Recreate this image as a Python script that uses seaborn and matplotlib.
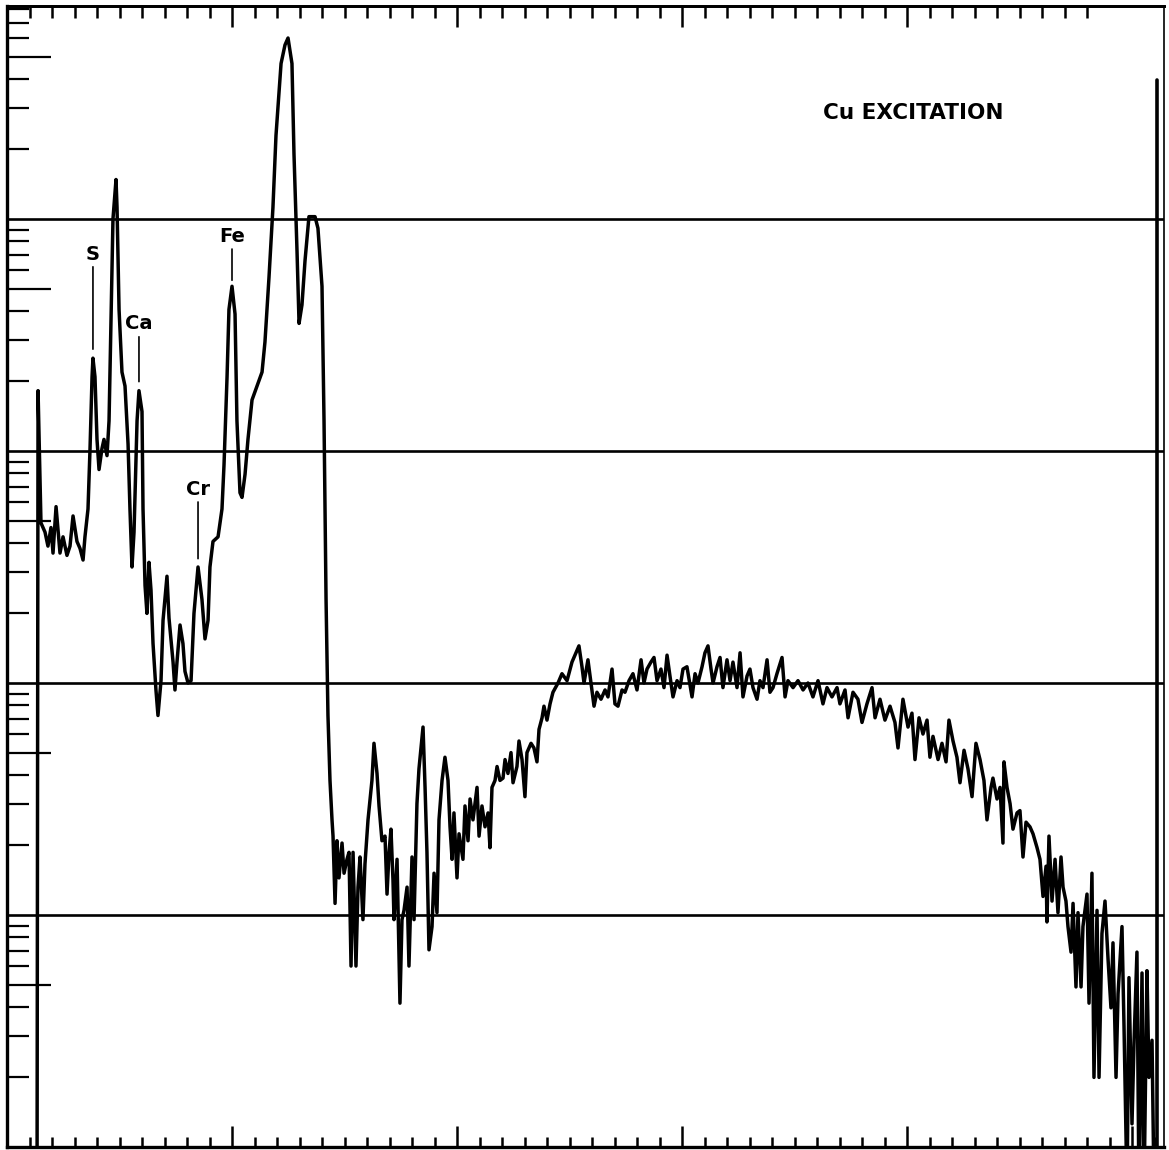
import numpy as np
import pandas as pd
import matplotlib
matplotlib.use("Agg")
import matplotlib.pyplot as plt
from matplotlib.ticker import LogLocator, FixedLocator, NullFormatter
import seaborn as sns

# ---------------- data (channel, log10 counts) ----------------
channels = [
    26.7, 27.6, 30.2, 33.8, 36.4, 39.1, 40.9, 43.6, 47.1, 49.8,
    53.3, 56.0, 58.7, 62.2, 64.9, 67.6, 69.3, 72.0, 73.8, 75.6,
    76.4, 78.2, 80.0, 81.8, 84.4, 86.2, 88.9, 90.7, 92.4, 94.2,
    96.9, 97.8, 99.6, 102.2, 104.9, 107.6, 109.3, 111.1, 112.9, 115.6,
    117.3, 120.0, 120.9, 122.7, 124.4, 126.2, 128.0, 129.8, 132.4, 134.2,
    136.9, 138.7, 142.2, 144.0, 147.6, 149.3, 151.1, 153.8, 156.4, 158.2,
    160.9, 163.6, 166.2, 169.8, 173.3, 176.0, 178.7, 180.4, 183.1, 187.6,
    191.1, 192.9, 195.6, 197.3, 200.0, 202.7, 204.4, 207.1, 208.9, 211.6,
    214.2, 217.8, 222.2, 226.7, 229.3, 232.9, 236.4, 239.1, 243.6, 247.1,
    249.8, 253.3, 255.1, 257.8, 259.6, 262.2, 264.9, 268.4, 273.8, 276.4,
    280.0, 281.8, 283.6, 285.3, 287.1, 288.9, 289.8, 291.6, 293.3, 295.1,
    297.8, 299.6, 302.2, 304.0, 305.8, 307.6, 310.2, 312.0, 313.8, 316.4,
    318.2, 320.9, 324.4, 326.2, 328.9, 330.7, 333.3, 336.0, 337.8, 339.6,
    341.3, 343.1, 344.0, 346.7, 347.6, 349.3, 351.1, 352.9, 355.6, 357.3,
    360.0, 361.8, 364.4, 366.2, 369.8, 371.6, 373.3, 375.1, 377.8, 379.6,
    382.2, 384.0, 386.7, 389.3, 392.0, 393.8, 395.6, 397.3, 400.0, 401.8,
    405.3, 407.1, 409.8, 411.6, 414.2, 417.8, 419.6, 422.2, 424.9, 427.6,
    429.3, 431.1, 433.8, 435.6, 438.2, 440.9, 442.7, 445.3, 448.0, 449.8,
    453.3, 455.1, 457.8, 460.4, 462.2, 465.8, 468.4, 471.1, 472.9, 475.6,
    477.3, 480.0, 482.7, 485.3, 489.8, 493.3, 497.8, 502.2, 506.7, 508.4,
    511.1, 512.9, 516.4, 519.1, 521.8, 524.4, 528.0, 531.6, 534.2, 537.8,
    540.4, 543.1, 546.7, 549.3, 552.9, 556.4, 560.0, 563.6, 566.2, 568.9,
    572.4, 575.1, 577.8, 581.3, 584.0, 586.7, 589.3, 592.0, 595.6, 598.2,
    600.9, 604.4, 608.9, 611.6, 614.2, 617.8, 620.4, 623.1, 625.8, 627.6,
    631.1, 633.8, 636.4, 640.0, 642.7, 645.3, 648.9, 651.6, 654.2, 657.8,
    660.4, 663.1, 666.7, 669.3, 672.0, 675.6, 678.2, 680.9, 684.4, 688.9,
    691.6, 694.2, 698.7, 703.1, 707.6, 712.0, 716.4, 720.9, 725.3, 728.9,
    733.3, 737.8, 740.4, 744.9, 747.6, 752.0, 756.4, 760.0, 764.4, 768.9,
    771.6, 776.0, 780.4, 784.9, 789.3, 792.0, 796.4, 800.9, 804.4, 807.1,
    810.7, 814.2, 817.8, 820.4, 823.1, 827.6, 831.1, 834.7, 837.3, 840.9,
    844.4, 847.1, 850.7, 854.2, 857.8, 861.3, 864.9, 868.4, 871.1, 874.7,
    876.4, 880.0, 882.7, 885.3, 886.2, 888.9, 891.6, 894.2, 897.8, 900.4,
    903.1, 905.8, 909.3, 912.0, 915.6, 918.2, 920.9, 923.6, 924.4, 926.2,
    928.9, 931.6, 934.2, 936.9, 938.7, 941.3, 943.1, 945.8, 947.6, 950.2,
    952.0, 954.7, 956.4, 960.0, 961.8, 964.4, 966.2, 968.9, 970.7, 973.3,
    976.0, 978.7, 981.3, 983.1, 985.8, 987.6, 991.1, 992.9, 995.6, 997.3,
    1000.0, 1001.8, 1004.4, 1006.2, 1008.9, 1010.7, 1013.3, 1015.1, 1017.8, 1019.6,
]

log10_counts = [
    -0.2, 3.26, 2.69, 2.65, 2.59, 2.67, 2.56, 2.76, 2.56, 2.63,
    2.55, 2.59, 2.72, 2.61, 2.58, 2.53, 2.63, 2.75, 3.01, 3.32,
    3.40, 3.32, 3.05, 2.92, 3.01, 3.05, 2.98, 3.13, 3.55, 4.00,
    4.17, 4.05, 3.61, 3.34, 3.28, 3.03, 2.75, 2.50, 2.65, 3.13,
    3.26, 3.17, 2.75, 2.42, 2.30, 2.52, 2.40, 2.17, 1.97, 1.86,
    2.01, 2.27, 2.46, 2.28, 2.09, 1.97, 2.09, 2.25, 2.17, 2.05,
    2.00, 2.01, 2.30, 2.50, 2.36, 2.19, 2.27, 2.50, 2.61, 2.63,
    2.75, 2.94, 3.32, 3.61, 3.71, 3.59, 3.13, 2.82, 2.80, 2.90,
    3.05, 3.22, 3.28, 3.34, 3.47, 3.75, 4.05, 4.36, 4.67, 4.75,
    4.78, 4.67, 4.28, 3.86, 3.55, 3.63, 3.82, 4.01, 4.01, 3.96,
    3.71, 3.13, 2.36, 1.86, 1.58, 1.41, 1.34, 1.05, 1.32, 1.16,
    1.31, 1.18, 1.24, 1.27, 0.78, 1.27, 0.78, 1.12, 1.25, 0.98,
    1.22, 1.41, 1.58, 1.74, 1.61, 1.47, 1.32, 1.34, 1.09, 1.27,
    1.37, 1.15, 0.98, 1.24, 1.03, 0.62, 0.98, 1.02, 1.12, 0.78,
    1.25, 0.98, 1.48, 1.63, 1.81, 1.55, 1.27, 0.85, 0.95, 1.18,
    1.01, 1.41, 1.58, 1.68, 1.58, 1.38, 1.24, 1.44, 1.16, 1.35,
    1.24, 1.47, 1.32, 1.50, 1.41, 1.55, 1.34, 1.47, 1.38, 1.44,
    1.29, 1.55, 1.58, 1.64, 1.58, 1.59, 1.67, 1.61, 1.70, 1.57,
    1.64, 1.75, 1.67, 1.51, 1.70, 1.74, 1.72, 1.66, 1.80, 1.85,
    1.90, 1.84, 1.91, 1.96, 2.00, 2.04, 2.01, 2.09, 2.14, 2.16,
    2.07, 2.00, 2.10, 2.00, 1.90, 1.96, 1.93, 1.97, 1.94, 2.06,
    1.91, 1.90, 1.97, 1.96, 2.01, 2.04, 1.97, 2.10, 2.00, 2.06,
    2.09, 2.11, 2.01, 2.06, 1.98, 2.12, 2.03, 1.94, 2.01, 1.98,
    2.06, 2.07, 1.94, 2.04, 2.00, 2.07, 2.13, 2.16, 2.06, 2.00,
    2.07, 2.11, 1.98, 2.10, 2.01, 2.09, 1.98, 2.13, 1.94, 2.03,
    2.06, 1.98, 1.93, 2.01, 1.98, 2.10, 1.96, 1.98, 2.04, 2.11,
    1.94, 2.01, 1.98, 2.01, 1.97, 2.00, 1.94, 2.01, 1.91, 1.98,
    1.94, 1.98, 1.91, 1.97, 1.85, 1.96, 1.93, 1.83, 1.91, 1.98,
    1.85, 1.93, 1.84, 1.90, 1.83, 1.72, 1.93, 1.81, 1.87, 1.67,
    1.85, 1.78, 1.84, 1.68, 1.77, 1.67, 1.74, 1.66, 1.84, 1.75,
    1.68, 1.57, 1.71, 1.63, 1.51, 1.74, 1.67, 1.58, 1.41, 1.55,
    1.59, 1.50, 1.55, 1.31, 1.66, 1.55, 1.48, 1.37, 1.44, 1.45,
    1.25, 1.40, 1.38, 1.35, 1.29, 1.24, 1.08, 1.21, 0.97, 1.34,
    1.06, 1.24, 1.01, 1.25, 1.12, 1.06, 0.95, 0.84, 1.05, 0.69,
    1.01, 0.69, 0.95, 1.09, 0.62, 1.18, 0.30, 1.02, 0.30, 0.92,
    1.06, 0.81, 0.60, 0.88, 0.30, 0.66, 0.95, 0.52, -0.2, 0.73,
    0.10, 0.45, 0.84, -0.2, 0.75, -0.2, 0.76, 0.30, 0.46, -0.2,
]

peak_names = ["S", "Ca", "Cr", "Fe"]
peak_channels = [76.4, 117.3, 169.8, 200.0]
title_text = "Cu EXCITATION"

# ---------------- figure ----------------
sns.set_style("white")
plt.rcParams["font.family"] = ["DejaVu Sans"]
plt.rcParams["text.color"] = "black"

W, H = 1169, 1150
fig = plt.figure(figsize=(W / 100, H / 100), dpi=100)
ax = fig.add_axes([7 / W, 3 / H, 1156.5 / W, 1141 / H])

df = pd.DataFrame({"channel": channels, "counts": 10 ** np.array(log10_counts)})
sns.lineplot(data=df, x="channel", y="counts", sort=False, estimator=None,
             color="black", linewidth=2.5, ax=ax, legend=False)

ax.set_yscale("log")
ax.set_xlim(0, 1028)
ax.set_ylim(1, 10 ** 4.918)
ax.set_xlabel("")
ax.set_ylabel("")

# decade reference lines
for k in range(1, 5):
    ax.axhline(10 ** k, color="black", lw=1.9, zorder=1)

# right hand pen line
ax.axvline(1022, ymin=0, ymax=0.935, color="black", lw=2.6)

# y ticks: long at 5x, short at the other sub-decades
ax.yaxis.set_major_locator(LogLocator(base=10, subs=[5.0]))
ax.yaxis.set_minor_locator(LogLocator(base=10, subs=[2, 3, 4, 6, 7, 8, 9]))
ax.yaxis.set_major_formatter(NullFormatter())
ax.yaxis.set_minor_formatter(NullFormatter())
ax.tick_params(axis="y", which="major", direction="in", length=32, width=1.6,
               left=True, right=False, labelleft=False, color="black")
ax.tick_params(axis="y", which="minor", direction="in", length=16, width=1.6,
               left=True, right=False, color="black")

# x ticks bottom
ax.xaxis.set_major_locator(FixedLocator([200, 400, 600, 800, 1000]))
ax.xaxis.set_minor_locator(FixedLocator([c for c in range(20, 1021, 20) if c % 200]))
ax.xaxis.set_major_formatter(NullFormatter())
ax.tick_params(axis="x", which="major", direction="in", length=15, width=1.8,
               bottom=True, top=False, labelbottom=False, color="black")
ax.tick_params(axis="x", which="minor", direction="in", length=7.5, width=1.8,
               bottom=True, top=False, color="black")

# x ticks top (stop earlier)
sec = ax.secondary_xaxis("top")
sec.xaxis.set_major_locator(FixedLocator([200, 400, 600, 800]))
sec.xaxis.set_minor_locator(FixedLocator([c for c in range(20, 961, 20) if c % 200]))
sec.tick_params(axis="x", which="major", direction="in", length=15, width=1.8,
                labeltop=False, color="black")
sec.tick_params(axis="x", which="minor", direction="in", length=8.5, width=1.8,
                color="black")
sec.spines["top"].set_linewidth(2.0)
sec.spines["top"].set_color("black")

for side, lw in [("left", 2.4), ("bottom", 2.4), ("top", 2.0), ("right", 1.2)]:
    ax.spines[side].set_visible(True)
    ax.spines[side].set_color("black")
    ax.spines[side].set_linewidth(lw)

# peak labels
label_rise = [75, 48, 56, 36]
label_gap = [6.5, 6.5, 6.0, 4.3]
log_c = np.array(log10_counts)
for name, ch, rise, gap in zip(peak_names, peak_channels, label_rise, label_gap):
    yv = 10 ** np.interp(ch, channels, log_c)
    ax.annotate(name, xy=(ch, yv), xytext=(0, rise), textcoords="offset points",
                ha="center", va="center", fontsize=14, fontweight="bold",
                color="black",
                arrowprops=dict(arrowstyle="-", color="black", lw=1.2,
                                shrinkA=0, shrinkB=gap))

ax.text(0.784, 0.906, title_text, transform=ax.transAxes, ha="center", va="center",
        fontsize=15.5, fontweight="bold", color="black")

fig.savefig("out.png", dpi=100, facecolor="white")
